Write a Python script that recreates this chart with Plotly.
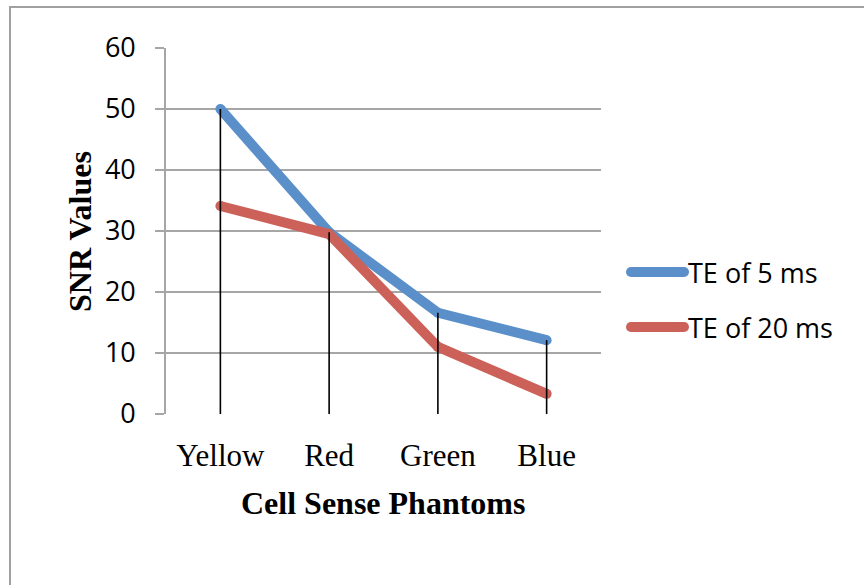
import plotly.graph_objects as go

# SNR measured for each cell-sense phantom at two echo times
phantoms = ["Yellow", "Red", "Green", "Blue"]
te5_snr = [50.0, 29.8, 16.6, 12.1]
te20_snr = [34.1, 29.5, 11.0, 3.3]
series_names = ["TE of 5 ms", "TE of 20 ms"]
series_colors = ["#5B8FC9", "#CC6159"]
y_ticks = [0, 10, 20, 30, 40, 50, 60]

W, H = 864, 585
L, R, T, B = 166, 601, 48, 414

fig = go.Figure()

for vals, name, color in zip([te5_snr, te20_snr], series_names, series_colors):
    fig.add_trace(go.Scatter(
        x=phantoms, y=vals, name=name, mode="lines+markers",
        line=dict(color=color, width=10),
        marker=dict(color=color, size=10),
        showlegend=False,
    ))

# drop lines from the highest point of each category down to the axis
drop_x, drop_y = [], []
for i, cat in enumerate(phantoms):
    drop_x += [cat, cat, None]
    drop_y += [0, max(te5_snr[i], te20_snr[i]), None]
fig.add_trace(go.Scatter(
    x=drop_x, y=drop_y, mode="lines",
    line=dict(color="black", width=1.6),
    showlegend=False, hoverinfo="skip",
))

grid = "#A6A6A6"
fig.update_layout(
    width=W, height=H,
    margin=dict(l=L, r=W - R, t=T, b=H - B),
    paper_bgcolor="white", plot_bgcolor="white",
    xaxis=dict(
        type="category", range=[-0.5, 3.5],
        showgrid=False, showline=False, ticks="",
        tickfont=dict(family="Liberation Serif", size=31, color="black"),
        ticklabelstandoff=20,
    ),
    yaxis=dict(
        range=[0, 60], tickvals=y_ticks,
        showgrid=True, gridcolor=grid, gridwidth=1.6,
        showline=True, linecolor=grid, linewidth=1.6,
        ticks="outside", ticklen=9, tickcolor=grid, tickwidth=1.6,
        tickfont=dict(family="Open Sans", size=27, color="black"),
        ticklabelstandoff=14,
        zeroline=False,
    ),
    showlegend=False,
)

def px(x):
    return (x - L) / (R - L)

def py(y):
    return (B - y) / (B - T)

# outer chart border
fig.add_shape(type="rect", xref="paper", yref="paper",
              x0=px(10), x1=px(W + 20), y0=py(7), y1=py(H + 20),
              line=dict(color="#A0A0A0", width=2), layer="below")

# axis titles
fig.add_annotation(text="<b>SNR Values</b>", xref="paper", yref="paper",
                   x=px(80), y=py(232), xanchor="center", yanchor="middle",
                   showarrow=False, textangle=-90,
                   font=dict(family="Liberation Serif", size=32, color="black"))
fig.add_annotation(text="<b>Cell Sense Phantoms</b>", xref="paper", yref="paper",
                   x=px(383), y=py(503), xanchor="center", yanchor="middle",
                   showarrow=False,
                   font=dict(family="Liberation Serif", size=32, color="black"))

# legend
for k, (name, color) in enumerate(zip(series_names, series_colors)):
    ly = [272, 327][k]
    fig.add_shape(type="line", xref="paper", yref="paper",
                  x0=px(631), x1=px(684), y0=py(ly), y1=py(ly),
                  line=dict(color=color, width=10))
    fig.add_shape(type="circle", xref="paper", yref="paper",
                  x0=px(626), x1=px(636), y0=py(ly - 5), y1=py(ly + 5),
                  fillcolor=color, line=dict(width=0))
    fig.add_shape(type="circle", xref="paper", yref="paper",
                  x0=px(679), x1=px(689), y0=py(ly - 5), y1=py(ly + 5),
                  fillcolor=color, line=dict(width=0))
    fig.add_annotation(text=name, xref="paper", yref="paper",
                       x=px(686), y=py(ly), xanchor="left", yanchor="middle",
                       showarrow=False,
                       font=dict(family="Open Sans", size=27, color="black"))

fig.write_html("out.html")
